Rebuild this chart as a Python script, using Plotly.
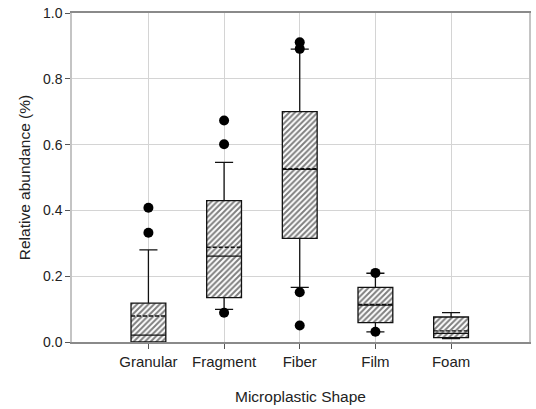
import plotly.graph_objects as go

categories = ["Granular", "Fragment", "Fiber", "Film", "Foam"]
q1 = [0.0, 0.135, 0.315, 0.059, 0.013]
median = [0.021, 0.261, 0.525, 0.112, 0.026]
mean = [0.079, 0.288, 0.527, 0.114, 0.034]
q3 = [0.118, 0.430, 0.700, 0.166, 0.076]
lower_whisker = [0.0, 0.099, 0.166, 0.031, 0.010]
upper_whisker = [0.280, 0.546, 0.890, 0.209, 0.089]
outlier_cat = ["Granular", "Granular", "Fragment", "Fragment", "Fragment",
               "Fiber", "Fiber", "Fiber", "Fiber", "Film", "Film"]
outlier_y = [0.332, 0.408, 0.089, 0.601, 0.673,
             0.891, 0.911, 0.151, 0.050, 0.210, 0.031]
y_ticks = [0.0, 0.2, 0.4, 0.6, 0.8, 1.0]
y_ticklabels = ["0.0", "0.2", "0.4", "0.6", "0.8", "1.0"]

FONT = "Liberation Sans, Arial, sans-serif"
BOXW = 0.46
xpos = list(range(len(categories)))
outlier_x = [categories.index(c) for c in outlier_cat]

fig = go.Figure()

# hatched fill of boxes
fig.add_trace(go.Bar(
    x=xpos,
    base=q1,
    y=[b - a for a, b in zip(q1, q3)],
    width=BOXW,
    marker=dict(
        color="white",
        line=dict(width=0),
        pattern=dict(shape="/", fgcolor="#000000", bgcolor="white",
                     size=4, solidity=0.5),
    ),
    showlegend=False,
    hoverinfo="skip",
))

# box outlines, medians, whiskers
fig.add_trace(go.Box(
    x=xpos,
    q1=q1,
    median=median,
    q3=q3,
    lowerfence=lower_whisker,
    upperfence=upper_whisker,
    width=BOXW,
    whiskerwidth=0.52,
    fillcolor="rgba(0,0,0,0)",
    line=dict(color="#111111", width=1.3),
    boxpoints=False,
    showlegend=False,
))

# dashed mean lines
mx, my = [], []
for i, m in zip(xpos, mean):
    mx += [i - BOXW / 2, i + BOXW / 2, None]
    my += [m, m, None]
fig.add_trace(go.Scatter(
    x=mx, y=my, mode="lines",
    line=dict(color="#111111", width=1.3, dash="4px,2px"),
    showlegend=False, hoverinfo="skip",
))

# outliers
fig.add_trace(go.Scatter(
    x=outlier_x,
    y=outlier_y,
    mode="markers",
    marker=dict(color="black", size=10),
    showlegend=False,
))

fig.update_layout(
    width=536,
    height=409,
    margin=dict(l=72, r=5, t=13, b=67),
    plot_bgcolor="white",
    paper_bgcolor="white",
    font=dict(family=FONT, color="#222222"),
    barmode="overlay",
)

fig.update_xaxes(
    range=[-1.01, 5.03],
    tickvals=xpos,
    ticktext=categories,
    showgrid=True,
    gridcolor="#d4d4d4",
    gridwidth=1,
    showline=True,
    linecolor="#8a8a8a",
    linewidth=1.5,
    mirror=True,
    ticks="outside",
    ticklen=5,
    tickcolor="#555555",
    tickfont=dict(size=15, family=FONT, color="#222222"),
    title=dict(text="Microplastic Shape", font=dict(size=15.5, family=FONT, color="#222222"), standoff=22),
    zeroline=False,
)

fig.update_yaxes(
    range=[0, 1.0],
    tickvals=y_ticks,
    ticktext=y_ticklabels,
    showgrid=True,
    gridcolor="#d4d4d4",
    gridwidth=1,
    showline=True,
    linecolor="#c4c4c4",
    linewidth=1.5,
    mirror=True,
    ticks="outside",
    ticklen=5,
    tickcolor="#555555",
    tickfont=dict(size=14, family=FONT, color="#222222"),
    title=dict(text="Relative abundance (%)", font=dict(size=15.5, family=FONT, color="#222222"), standoff=9),
    zeroline=False,
)

fig.write_html("out.html")
